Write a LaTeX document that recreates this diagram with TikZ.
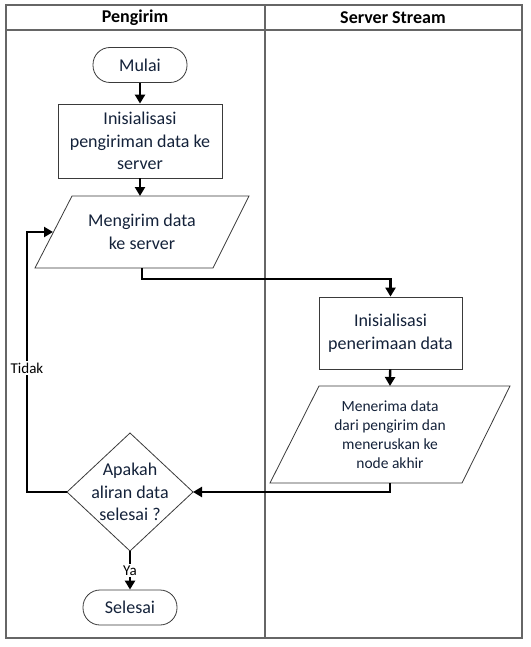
\documentclass[tikz,border=0pt]{standalone}
\usepackage{fontspec}
\setmainfont{Carlito}
\usetikzlibrary{shapes.geometric,arrows.meta}
\definecolor{txt}{HTML}{14223A}
\definecolor{framec}{HTML}{666666}
\definecolor{edgec}{HTML}{3A3A3A}
\begin{document}
\begin{tikzpicture}[x=1pt,y=-1pt,
  base/.style={draw=edgec,line width=0.8pt,fill=white,text=txt,align=center,inner sep=0pt,
    font=\fontsize{18}{22.5}\selectfont},
  term/.style={base,rounded corners=17pt,minimum width=94pt,minimum height=35pt},
  proc/.style={base},
  shapeline/.style={draw=edgec,line width=0.8pt,fill=white},
  txtonly/.style={text=txt,align=center,inner sep=0pt,font=\fontsize{18}{22.5}\selectfont},
  smalltxt/.style={text=txt,align=center,inner sep=0pt,font=\fontsize{15.5}{19.2}\selectfont},
  head/.style={text=black,font=\fontsize{18}{20}\selectfont\bfseries,inner sep=0pt},
  lbl/.style={fill=white,text=black,inner sep=1.5pt,font=\fontsize{15}{17}\selectfont},
  arr/.style={line width=2.3pt,-{Triangle[length=9pt,width=10pt]}},
  framel/.style={draw=framec,line width=2pt}
]
\useasboundingbox (0,0) rectangle (530,647);
\fill[white] (0,0) rectangle (530,647);
% frame
\draw[framel] (6,5) rectangle (522,638);
\draw[framel] (6,30) -- (522,30);
\draw[framel] (265,5) -- (265,638);
\node[head] (h1) at (135,17.5) {Pengirim};
\node[head] (h2) at (393,17.5) {Server Stream};
% nodes
\node[term] (start) at (140,65) {Mulai};
\node[proc,minimum width=164pt,minimum height=74pt] (init1) at (140,141) {Inisialisasi\\pengiriman data ke\\server};
\draw[shapeline] (72,196) -- (249,196) -- (213,268) -- (35,268) -- cycle;
\node[txtonly] (send) at (142,232) {Mengirim data\\ke server};
\coordinate (sendtop) at (140,196);
\coordinate (sendbot) at (142,268);
\coordinate (sendleft) at (53,232);
\node[proc,minimum width=143pt,minimum height=72pt] (init2) at (390.5,333) {Inisialisasi\\penerimaan data};
\draw[shapeline] (319,386) -- (510,386) -- (462,483) -- (270,483) -- cycle;
\node[smalltxt] (recv) at (390,434.5) {Menerima data\\dari pengirim dan\\meneruskan ke\\node akhir};
\coordinate (recvtop) at (390,386);
\coordinate (recvbot) at (390,483);
% decision diamond
\coordinate (dtop) at (130,433);
\coordinate (dright) at (193,492);
\coordinate (dbot) at (130,551);
\coordinate (dleft) at (67,492);
\draw[shapeline] (dtop) -- (dright) -- (dbot) -- (dleft) -- cycle;
\node[txtonly] (dec) at (130,492) {Apakah\\aliran data\\selesai ?};
\node[term] (end) at (130,607.5) {Selesai};
\coordinate (lp) at (27,232);
% connectors
\draw[arr] (start) -- (init1);
\draw[arr] (init1) -- (sendtop);
\draw[arr] (sendbot) -- ++(0,11) -| (init2.north);
\draw[arr] (init2) -- (recvtop);
\draw[arr] (recvbot) |- (dright);
\draw[arr] (dleft) -| (lp) -- (sendleft);
\node[lbl] (tidak) at (27,368) {Tidak};
\draw[arr] (dbot) -- (end.north);
\node[lbl] (ya) at (130,570.5) {Ya};
\end{tikzpicture}
\end{document}
